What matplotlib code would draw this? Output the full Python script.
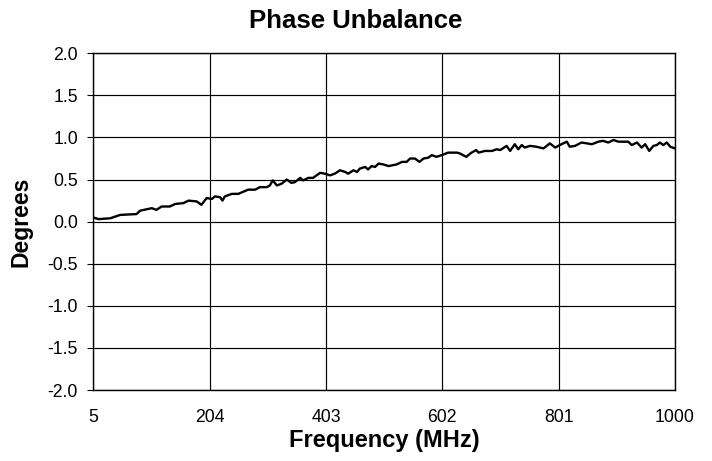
import matplotlib
matplotlib.use("Agg")
import matplotlib.pyplot as plt

plt.rcParams["font.family"] = ["Liberation Sans", "DejaVu Sans"]
plt.rcParams["axes.unicode_minus"] = False

freq_mhz = [
    5, 14, 34, 51, 79, 85, 105, 113, 122, 136, 145, 159, 168, 182, 190, 199,
    208, 213, 222, 226, 230, 242, 253, 270, 282, 290, 302, 307, 312, 319, 327,
    336, 344, 350, 359, 364, 373, 381, 393, 401, 410, 418, 427, 436, 441, 450,
    456, 461, 470, 475, 481, 487, 493, 501, 510, 524, 533, 541, 547, 555, 563,
    570, 578, 584, 592, 601, 612, 627, 632, 643, 652, 660, 664, 675, 687, 695,
    701, 712, 718, 726, 732, 738, 743, 752, 763, 775, 786, 795, 803, 815, 820,
    829, 840, 849, 858, 869, 877, 886, 895, 903, 912, 920, 926, 935, 943, 949,
    956, 963, 969, 974, 980, 986, 992, 1000,
]
phase_deg = [
    0.05, 0.03, 0.04, 0.08, 0.09, 0.13, 0.16, 0.14, 0.18, 0.18, 0.21, 0.22,
    0.25, 0.24, 0.20, 0.28, 0.27, 0.30, 0.29, 0.25, 0.30, 0.33, 0.33, 0.38,
    0.38, 0.41, 0.41, 0.43, 0.49, 0.43, 0.45, 0.50, 0.46, 0.47, 0.52, 0.49,
    0.52, 0.52, 0.58, 0.57, 0.55, 0.57, 0.61, 0.59, 0.57, 0.61, 0.59, 0.63,
    0.65, 0.62, 0.66, 0.65, 0.69, 0.68, 0.66, 0.68, 0.71, 0.71, 0.75, 0.75,
    0.71, 0.75, 0.76, 0.79, 0.77, 0.79, 0.82, 0.82, 0.81, 0.77, 0.82, 0.85,
    0.82, 0.84, 0.84, 0.86, 0.85, 0.90, 0.84, 0.92, 0.86, 0.91, 0.88, 0.90,
    0.89, 0.87, 0.93, 0.88, 0.91, 0.95, 0.89, 0.90, 0.94, 0.93, 0.92, 0.95,
    0.96, 0.94, 0.97, 0.95, 0.95, 0.95, 0.91, 0.94, 0.88, 0.92, 0.84, 0.90,
    0.91, 0.94, 0.91, 0.94, 0.89, 0.87,
]

x_ticks = [5, 204, 403, 602, 801, 1000]
y_ticks = [-2.0, -1.5, -1.0, -0.5, 0.0, 0.5, 1.0, 1.5, 2.0]

fig = plt.figure(figsize=(7.12, 4.61), dpi=100)
ax = fig.add_axes([0.1310, 0.1540, 0.8170, 0.7304])

ax.plot(freq_mhz, phase_deg, color="black", linewidth=1.7, zorder=3)

ax.set_xlim(5, 1000)
ax.set_ylim(-2.0, 2.0)
ax.set_xticks(x_ticks)
ax.set_xticklabels([str(t) for t in x_ticks])
ax.set_yticks(y_ticks)
ax.set_yticklabels([f"{t:.1f}" for t in y_ticks])

ax.grid(True, color="black", linewidth=0.85)
ax.set_axisbelow(True)
for sp in ax.spines.values():
    sp.set_color("black")
    sp.set_linewidth(1.0)

ax.tick_params(axis="x", length=0, pad=14, labelsize=12.7)
ax.tick_params(axis="y", length=4, width=0.8, direction="out", pad=7, labelsize=12.7)

ax.set_xlabel("Frequency (MHz)", fontsize=17, fontweight="bold", labelpad=2)
ax.set_ylabel("Degrees", fontsize=16.5, fontweight="bold", labelpad=11)

fig.suptitle("Phase Unbalance", x=0.5, y=1 - 28 / 461, va="baseline",
             fontsize=18.5, fontweight="bold")

fig.savefig("out.png", dpi=100)
